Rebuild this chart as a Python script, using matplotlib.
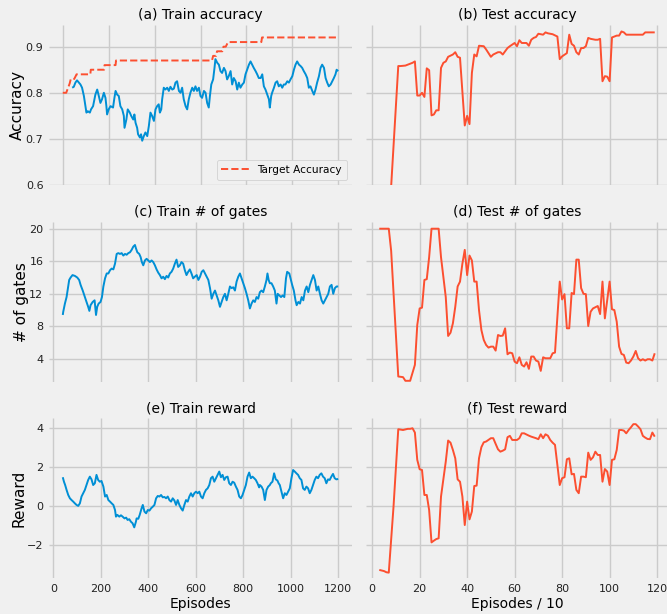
import matplotlib
matplotlib.use("Agg")
import matplotlib.pyplot as plt

# ---------------- data ----------------
target_x = [0, 15, 30, 35, 50, 60, 120, 122, 180, 182, 230, 232, 650, 655, 668, 672, 695, 700, 710, 720, 745, 748, 865, 868, 1200]
target_y = [0.80, 0.80, 0.82, 0.83, 0.83, 0.84, 0.84, 0.85, 0.85, 0.86, 0.86, 0.87, 0.87, 0.88, 0.88, 0.89, 0.89, 0.90, 0.90, 0.91, 0.91, 0.91, 0.91, 0.92, 0.92]

train_acc_x = [41, 48, 55, 62, 70, 77, 84, 92, 99, 103, 109, 118, 123, 132, 138, 142, 150, 157, 164, 171, 179, 186, 190, 193, 200, 208, 219, 225, 230, 237, 244, 251, 259, 266, 269, 277, 283, 292, 298, 307, 312, 317, 324, 328, 336, 341, 346, 353, 360, 368, 375, 382, 389, 397, 404, 411, 418, 423, 429, 433, 440, 447, 455, 462, 469, 477, 484, 491, 498, 506, 513, 520, 527, 535, 542, 549, 556, 564, 571, 578, 585, 593, 600, 607, 615, 622, 629, 636, 641, 647, 655, 661, 665, 673, 680, 687, 694, 702, 709, 716, 723, 731, 738, 745, 753, 760, 767, 774, 782, 789, 796, 803, 811, 818, 825, 832, 840, 847, 854, 862, 869, 876, 883, 891, 898, 902, 908, 912, 920, 927, 934, 941, 949, 956, 963, 970, 978, 985, 992, 1000, 1007, 1014, 1021, 1029, 1036, 1043, 1050, 1058, 1065, 1072, 1079, 1087, 1094, 1101, 1108, 1116, 1123, 1130, 1138, 1145, 1152, 1159, 1167, 1174, 1181, 1188, 1193, 1200]
train_acc_y = [0.811, 0.813, 0.822, 0.827, 0.822, 0.818, 0.811, 0.793, 0.771, 0.757, 0.760, 0.757, 0.764, 0.771, 0.786, 0.796, 0.807, 0.793, 0.778, 0.786, 0.800, 0.789, 0.771, 0.753, 0.764, 0.771, 0.768, 0.789, 0.804, 0.796, 0.793, 0.771, 0.764, 0.750, 0.724, 0.742, 0.764, 0.757, 0.750, 0.742, 0.753, 0.735, 0.724, 0.710, 0.703, 0.710, 0.696, 0.706, 0.714, 0.706, 0.728, 0.757, 0.750, 0.739, 0.764, 0.771, 0.775, 0.757, 0.764, 0.786, 0.811, 0.807, 0.811, 0.804, 0.813, 0.807, 0.809, 0.822, 0.825, 0.804, 0.800, 0.811, 0.786, 0.771, 0.764, 0.786, 0.800, 0.811, 0.804, 0.814, 0.804, 0.811, 0.793, 0.789, 0.804, 0.800, 0.778, 0.768, 0.793, 0.818, 0.829, 0.854, 0.873, 0.865, 0.861, 0.847, 0.843, 0.854, 0.847, 0.829, 0.836, 0.847, 0.818, 0.832, 0.825, 0.807, 0.822, 0.811, 0.818, 0.822, 0.840, 0.850, 0.861, 0.868, 0.861, 0.854, 0.847, 0.840, 0.832, 0.832, 0.840, 0.814, 0.807, 0.796, 0.786, 0.768, 0.793, 0.800, 0.811, 0.822, 0.825, 0.814, 0.818, 0.811, 0.818, 0.818, 0.825, 0.822, 0.829, 0.836, 0.850, 0.861, 0.868, 0.861, 0.858, 0.854, 0.847, 0.840, 0.832, 0.811, 0.814, 0.804, 0.796, 0.807, 0.822, 0.836, 0.854, 0.861, 0.854, 0.832, 0.822, 0.814, 0.818, 0.825, 0.832, 0.840, 0.850, 0.847]

train_gates_x = [40, 42, 49, 56, 63, 67, 73, 81, 91, 101, 109, 115, 124, 133, 140, 147, 152, 157, 166, 174, 180, 185, 191, 199, 205, 211, 218, 225, 232, 239, 246, 253, 260, 267, 274, 281, 288, 295, 302, 309, 316, 323, 330, 337, 344, 348, 354, 362, 368, 373, 379, 386, 393, 400, 407, 414, 421, 428, 435, 442, 449, 456, 463, 470, 477, 484, 491, 498, 505, 512, 519, 526, 533, 540, 547, 554, 561, 568, 575, 582, 589, 596, 604, 611, 618, 625, 632, 639, 646, 653, 660, 667, 674, 681, 688, 695, 702, 709, 716, 723, 730, 737, 744, 751, 758, 765, 772, 779, 786, 793, 800, 807, 814, 821, 828, 835, 842, 849, 856, 863, 870, 877, 884, 891, 898, 902, 907, 912, 919, 926, 933, 940, 945, 952, 959, 966, 973, 980, 985, 994, 999, 1006, 1013, 1020, 1025, 1032, 1039, 1046, 1053, 1060, 1067, 1074, 1081, 1088, 1095, 1102, 1109, 1116, 1123, 1130, 1137, 1144, 1151, 1158, 1165, 1172, 1179, 1186, 1193, 1200]
train_gates_y = [9.4, 9.8, 10.8, 11.6, 12.9, 13.7, 14.0, 14.3, 14.2, 14.0, 13.7, 13.1, 12.4, 11.6, 11.0, 10.4, 9.9, 10.6, 11.0, 11.2, 9.4, 10.4, 10.8, 11.0, 11.6, 12.9, 13.9, 14.5, 14.5, 14.9, 15.1, 15.0, 15.7, 16.9, 17.0, 16.9, 17.0, 16.7, 16.9, 16.8, 17.0, 17.1, 17.4, 17.8, 18.0, 17.6, 17.1, 16.9, 16.5, 15.9, 15.5, 16.1, 16.3, 16.1, 15.9, 16.1, 15.9, 15.5, 15.0, 14.6, 14.3, 13.9, 14.1, 13.8, 14.2, 14.0, 14.5, 14.7, 15.1, 15.7, 16.2, 15.3, 15.5, 15.9, 15.7, 14.9, 14.3, 14.7, 15.0, 14.5, 13.9, 14.1, 14.3, 13.7, 14.1, 14.7, 14.9, 14.5, 14.1, 13.7, 12.7, 11.4, 12.0, 12.4, 11.8, 11.2, 10.4, 11.0, 11.6, 12.0, 11.2, 12.0, 12.9, 12.7, 12.8, 12.4, 13.5, 14.1, 14.5, 13.9, 13.3, 12.7, 12.0, 11.2, 10.2, 10.8, 11.2, 11.0, 11.6, 11.4, 12.2, 12.4, 12.2, 12.9, 13.7, 14.5, 13.7, 13.3, 13.3, 12.9, 12.4, 10.8, 12.0, 11.8, 11.6, 11.8, 11.6, 13.9, 14.7, 14.5, 13.9, 13.1, 12.4, 11.2, 10.6, 11.0, 10.8, 11.6, 11.2, 12.4, 12.9, 12.2, 13.1, 13.7, 14.3, 13.7, 12.4, 12.9, 12.0, 11.2, 10.8, 11.2, 11.6, 12.0, 12.9, 13.1, 12.0, 12.7, 12.9, 12.9]

train_reward_x = [40, 45, 50, 56, 63, 70, 77, 84, 91, 98, 105, 112, 119, 126, 133, 140, 147, 154, 161, 168, 175, 182, 189, 196, 203, 211, 218, 225, 232, 239, 246, 253, 260, 264, 270, 278, 285, 292, 300, 307, 313, 320, 327, 334, 341, 348, 351, 358, 364, 372, 377, 384, 391, 398, 405, 412, 419, 426, 433, 440, 447, 454, 461, 468, 475, 482, 489, 496, 503, 510, 517, 524, 531, 538, 545, 552, 559, 566, 573, 580, 587, 594, 601, 608, 615, 622, 629, 636, 643, 650, 657, 664, 671, 678, 685, 692, 699, 706, 713, 720, 727, 734, 741, 748, 755, 762, 769, 776, 783, 790, 797, 804, 811, 818, 825, 832, 839, 846, 853, 860, 867, 870, 877, 884, 891, 898, 905, 912, 916, 923, 930, 937, 944, 949, 954, 961, 968, 975, 982, 989, 996, 1003, 1010, 1017, 1024, 1031, 1038, 1045, 1052, 1059, 1066, 1073, 1080, 1087, 1094, 1101, 1108, 1115, 1122, 1129, 1136, 1143, 1150, 1157, 1164, 1171, 1178, 1185, 1192, 1200]
train_reward_y = [1.49, 1.26, 1.09, 0.84, 0.58, 0.41, 0.32, 0.24, 0.15, 0.07, 0.02, 0.15, 0.50, 0.67, 0.84, 1.09, 1.35, 1.52, 1.38, 1.09, 1.18, 1.61, 1.35, 1.26, 1.30, 1.01, 0.50, 0.58, 0.32, 0.24, 0.15, 0.07, -0.19, -0.53, -0.44, -0.53, -0.46, -0.53, -0.62, -0.58, -0.70, -0.66, -0.79, -0.87, -1.08, -0.79, -0.62, -0.64, -0.44, -0.10, 0.07, -0.27, -0.36, -0.19, -0.22, -0.10, -0.02, 0.07, 0.41, 0.53, 0.50, 0.58, 0.46, 0.48, 0.41, 0.50, 0.32, 0.24, 0.41, 0.30, 0.07, 0.32, 0.07, -0.10, -0.22, 0.07, 0.32, 0.24, 0.50, 0.67, 0.50, 0.67, 0.75, 0.67, 0.75, 0.50, 0.41, 0.67, 0.84, 0.92, 1.09, 1.44, 1.52, 1.26, 1.44, 1.61, 1.78, 1.49, 1.61, 1.35, 1.49, 1.52, 1.18, 1.09, 1.26, 1.21, 1.01, 0.84, 0.50, 0.41, 0.58, 0.84, 1.09, 1.52, 1.73, 1.44, 1.52, 1.44, 1.35, 1.18, 0.97, 1.09, 1.01, 0.84, 0.32, 0.84, 1.01, 1.09, 1.18, 1.26, 1.69, 1.38, 1.32, 1.18, 1.09, 0.75, 0.41, 0.67, 0.58, 0.75, 0.92, 1.44, 1.86, 1.78, 1.69, 1.61, 1.44, 1.35, 0.92, 0.84, 1.01, 0.92, 0.67, 0.84, 1.09, 1.35, 1.52, 1.44, 1.61, 1.69, 1.52, 1.44, 1.18, 1.38, 1.35, 1.52, 1.66, 1.44, 1.38, 1.40]

test_acc_x = [3, 7, 11, 12, 14, 15, 17, 18, 19, 20, 21, 22, 23, 24, 25, 26, 27, 28, 29, 30, 31, 32, 34, 35, 36, 37, 39, 40, 41, 42, 43, 44, 45, 47, 48, 50, 51, 53, 54, 55, 57, 58, 60, 61, 62, 63, 65, 66, 67, 68, 69, 70, 72, 73, 74, 76, 78, 79, 80, 82, 83, 84, 85, 86, 87, 88, 89, 90, 91, 92, 94, 95, 96, 97, 98, 99, 100, 101, 103, 104, 105, 106, 107, 110, 114, 115, 119]
test_acc_y = [0.51, 0.51, 0.858, 0.858, 0.859, 0.861, 0.865, 0.868, 0.794, 0.794, 0.800, 0.791, 0.853, 0.849, 0.751, 0.753, 0.762, 0.762, 0.854, 0.865, 0.868, 0.878, 0.883, 0.888, 0.878, 0.876, 0.729, 0.750, 0.732, 0.843, 0.883, 0.879, 0.902, 0.901, 0.894, 0.878, 0.883, 0.888, 0.888, 0.883, 0.897, 0.901, 0.908, 0.901, 0.914, 0.908, 0.908, 0.902, 0.915, 0.919, 0.921, 0.928, 0.926, 0.931, 0.929, 0.927, 0.922, 0.873, 0.879, 0.886, 0.926, 0.906, 0.902, 0.888, 0.883, 0.897, 0.897, 0.901, 0.919, 0.917, 0.915, 0.915, 0.917, 0.825, 0.836, 0.835, 0.825, 0.920, 0.924, 0.924, 0.933, 0.931, 0.926, 0.926, 0.926, 0.931, 0.931]

test_gates_x = [3, 7, 8, 11, 13, 14, 16, 18, 19, 20, 21, 22, 23, 24, 25, 28, 29, 31, 32, 33, 34, 35, 36, 37, 38, 39, 40, 41, 42, 43, 44, 45, 46, 47, 48, 49, 50, 51, 52, 53, 54, 55, 56, 57, 58, 59, 60, 61, 62, 63, 64, 65, 66, 67, 68, 69, 70, 71, 72, 73, 75, 76, 77, 79, 80, 81, 82, 83, 84, 85, 86, 87, 88, 89, 90, 91, 92, 93, 95, 96, 97, 98, 100, 101, 102, 103, 104, 105, 106, 107, 108, 109, 110, 111, 112, 113, 114, 115, 116, 117, 118, 119]
test_gates_y = [20.0, 20.0, 17.3, 1.84, 1.76, 1.31, 1.31, 3.27, 8.16, 10.2, 10.3, 13.7, 13.8, 16.5, 20.0, 20.0, 16.5, 11.6, 6.82, 7.22, 8.37, 10.4, 12.9, 13.5, 15.7, 17.4, 14.3, 16.7, 16.1, 13.5, 13.5, 10.0, 7.55, 6.33, 5.71, 5.39, 5.51, 5.51, 5.02, 6.94, 6.82, 6.86, 7.76, 4.57, 4.78, 4.69, 3.67, 3.47, 4.20, 3.27, 3.06, 3.59, 2.78, 4.29, 4.29, 3.80, 3.67, 2.53, 4.20, 4.08, 4.08, 4.69, 4.78, 13.5, 11.3, 11.96, 7.76, 7.76, 12.1, 11.96, 16.2, 16.2, 12.7, 12.0, 11.96, 8.04, 9.80, 10.2, 10.5, 9.51, 13.5, 8.98, 13.5, 10.1, 10.0, 8.57, 5.51, 4.61, 4.49, 3.55, 3.47, 3.80, 4.29, 4.98, 4.08, 3.80, 3.96, 3.80, 3.96, 3.96, 3.80, 4.69]

test_reward_x = [3, 5, 6, 7, 9, 11, 13, 15, 16, 17, 18, 19, 20, 21, 22, 23, 24, 25, 26, 27, 28, 29, 31, 32, 33, 34, 35, 36, 37, 38, 39, 40, 41, 42, 43, 44, 45, 46, 47, 48, 50, 51, 52, 53, 54, 55, 56, 57, 58, 59, 61, 62, 63, 64, 66, 67, 69, 70, 71, 72, 73, 74, 75, 76, 77, 78, 79, 80, 81, 82, 83, 84, 85, 86, 87, 88, 89, 90, 91, 92, 93, 94, 95, 96, 97, 98, 99, 100, 101, 102, 103, 104, 105, 106, 107, 108, 109, 110, 111, 112, 113, 114, 115, 116, 117, 118, 119]
test_reward_y = [-3.26, -3.32, -3.38, -3.40, -0.02, 3.95, 3.91, 3.97, 3.97, 4.00, 3.78, 2.38, 1.90, 1.86, 0.58, 0.58, -0.19, -1.85, -1.76, -1.68, -1.64, 0.50, 2.29, 3.37, 3.26, 2.89, 2.46, 1.38, 1.26, 0.50, -0.96, 0.24, -0.67, -0.27, 1.04, 1.06, 2.46, 3.03, 3.28, 3.32, 3.49, 3.49, 3.20, 2.92, 2.80, 2.85, 2.92, 3.54, 3.61, 3.40, 3.40, 3.49, 3.74, 3.74, 3.62, 3.57, 3.49, 3.44, 3.69, 3.49, 3.69, 3.62, 3.40, 3.26, 3.15, 2.12, 1.09, 1.44, 1.49, 2.41, 2.46, 1.64, 1.66, 0.84, 0.67, 1.52, 1.52, 1.49, 2.75, 2.38, 2.51, 2.80, 2.63, 2.63, 1.26, 1.91, 1.78, 1.09, 2.38, 2.41, 2.89, 3.91, 3.91, 3.88, 3.74, 3.91, 4.05, 4.21, 4.21, 4.09, 3.95, 3.61, 3.52, 3.45, 3.44, 3.78, 3.57]

left_xticks = [0, 200, 400, 600, 800, 1000, 1200]
right_xticks = [0, 20, 40, 60, 80, 100, 120]
acc_yticks = [0.6, 0.7, 0.8, 0.9]
gates_yticks = [4, 8, 12, 16, 20]
reward_yticks = [-2, 0, 2, 4]

titles = ["(a) Train accuracy", "(b) Test accuracy", "(c) Train # of gates",
          "(d) Test # of gates", "(e) Train reward", "(f) Test reward"]
ylabels = ["Accuracy", "# of gates", "Reward"]

# ---------------- style ----------------
plt.style.use("fivethirtyeight")
plt.rcParams["font.family"] = ["DejaVu Sans"]
BLUE = "#008fd5"
RED = "#fc4f30"
BG = "#f0f0f0"

W, H = 667, 614
fig = plt.figure(figsize=(W / 100, H / 100), dpi=100, facecolor=BG)

col_left = [49 / W, 365.5 / W]
col_w = 303 / W
row_bottom = [(H - 185) / H, (H - 381.7) / H, (H - 578.3) / H]
row_h = 160 / H

axes = [[None, None] for _ in range(3)]
for r in range(3):
    for c in range(2):
        ax = fig.add_axes([col_left[c], row_bottom[r], col_w, row_h])
        ax.set_facecolor(BG)
        ax.grid(True, color="#cbcbcb", linewidth=1.0)
        ax.tick_params(length=0, labelsize=8, pad=4, colors="#222222")
        for s in ax.spines.values():
            s.set_visible(False)
        axes[r][c] = ax

lw = 1.4
# Row 1
ax = axes[0][0]
ax.plot(target_x, target_y, "--", color=RED, lw=lw, label="Target Accuracy")
ax.plot(train_acc_x, train_acc_y, color=BLUE, lw=lw)
ax.set_xlim(-60, 1260)
ax.legend(loc="lower right", fontsize=7.6, frameon=True, facecolor=BG,
          edgecolor="#cccccc", framealpha=1.0, handlelength=2.6,
          borderpad=0.45, labelspacing=0.3)
ax = axes[0][1]
ax.plot(test_acc_x, test_acc_y, color=RED, lw=lw)
for a in axes[0]:
    a.set_ylim(0.6, 0.947)
    a.set_yticks(acc_yticks)

# Row 2
axes[1][0].plot(train_gates_x, train_gates_y, color=BLUE, lw=lw)
axes[1][1].plot(test_gates_x, test_gates_y, color=RED, lw=lw)
for a in axes[1]:
    a.set_ylim(1.2, 20.86)
    a.set_yticks(gates_yticks)

# Row 3
axes[2][0].plot(train_reward_x, train_reward_y, color=BLUE, lw=lw)
axes[2][1].plot(test_reward_x, test_reward_y, color=RED, lw=lw)
for a in axes[2]:
    a.set_ylim(-3.69, 4.51)
    a.set_yticks(reward_yticks)

for r in range(3):
    axes[r][0].set_xticks(left_xticks)
    axes[r][1].set_xticks(right_xticks)
    if r > 0:
        axes[r][0].set_xlim(-18, 1258)
    axes[r][1].set_xlim(-2.8, 124.8)
    axes[r][1].tick_params(labelleft=False)
    if r < 2:
        for c in range(2):
            axes[r][c].tick_params(labelbottom=False)
    axes[r][0].set_ylabel(ylabels[r], fontsize=11, labelpad=0.5)
    for c in range(2):
        axes[r][c].set_title(titles[2 * r + c], fontsize=10, pad=4)

axes[2][0].set_xlabel("Episodes", fontsize=10, labelpad=2.5)
axes[2][1].set_xlabel("Episodes / 10", fontsize=10, labelpad=2.5)

fig.savefig("out.png", dpi=100, facecolor=BG)
